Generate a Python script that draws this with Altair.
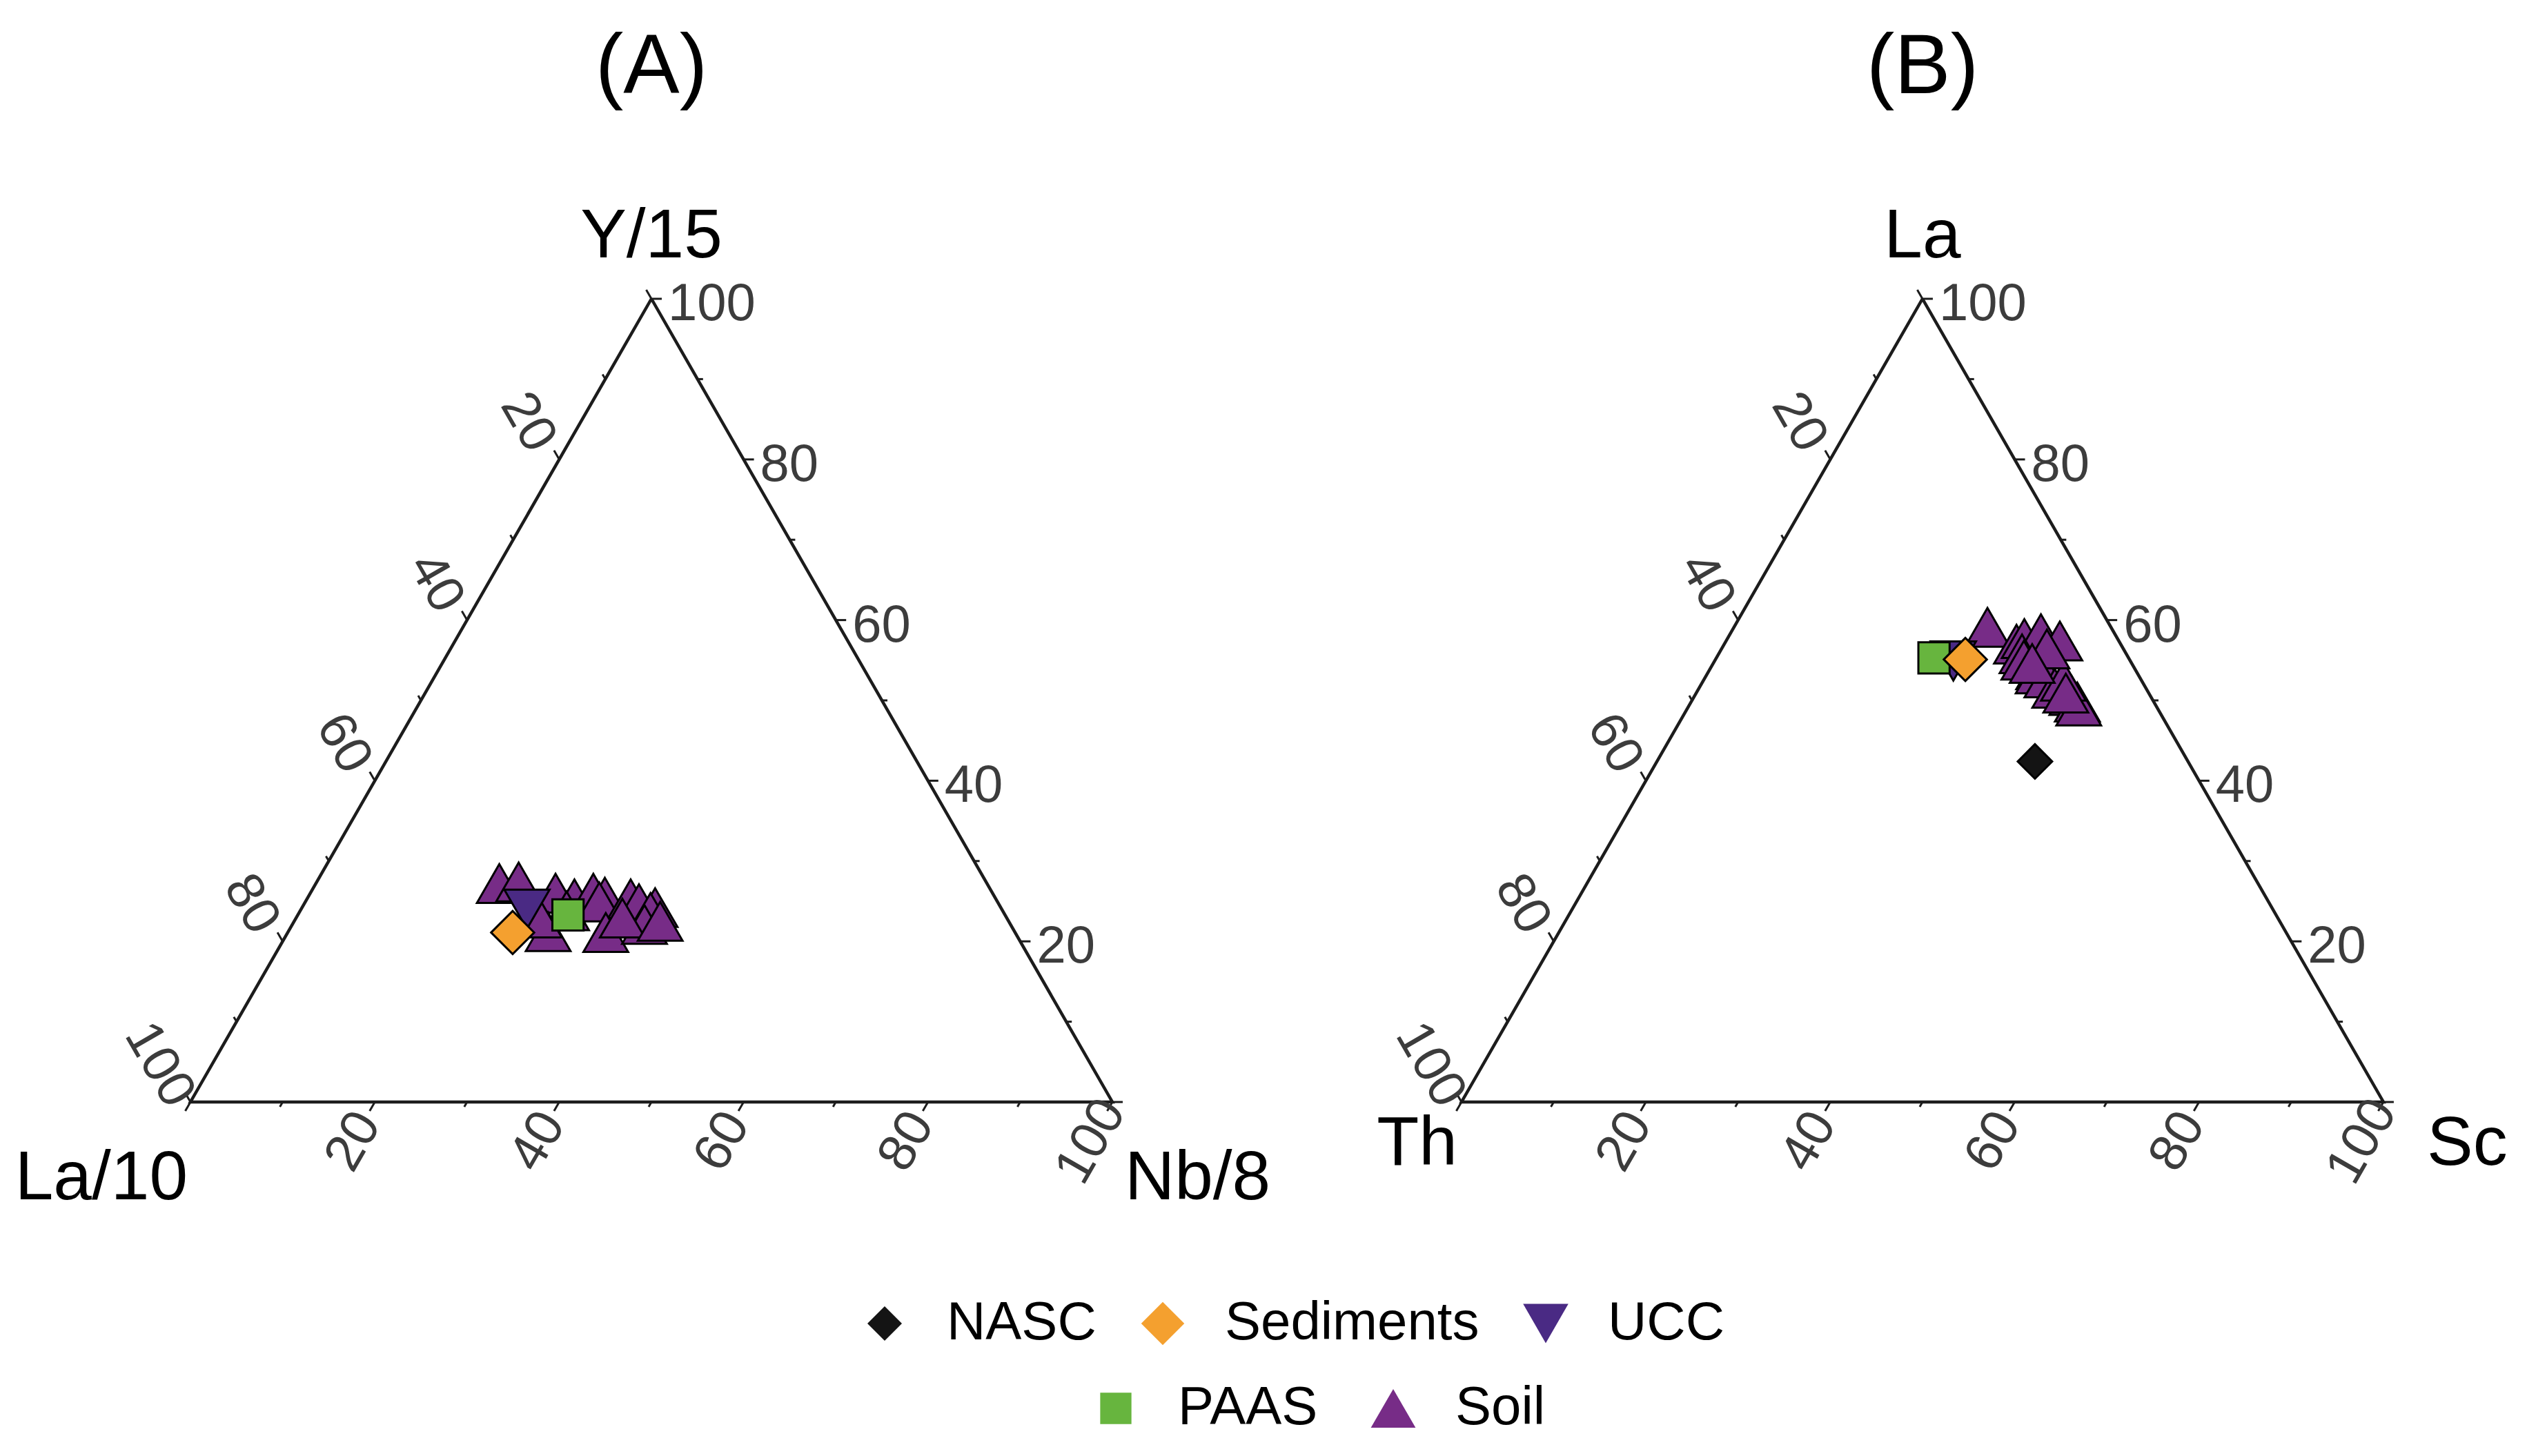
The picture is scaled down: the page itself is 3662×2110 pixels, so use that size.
import altair as alt
import pandas as pd

# ---------------- data ----------------
groups = ["NASC", "Sediments", "UCC", "PAAS", "Soil"]
group_colors = ["#141414", "#F4A02F", "#4A2A84", "#67B53E", "#772C87"]
group_shapes = ["diamond", "diamond", "triangle-down", "square", "triangle-up"]
group_sizes = [2500, 3900, 4300, 2050, 4200]
draw_order = ["NASC", "Soil", "UCC", "PAAS", "Sediments"]
legend_row1 = ["NASC", "Sediments", "UCC"]
legend_row2 = ["PAAS", "Soil"]

panel_titles = ["(A)", "(B)"]
top_names = ["Y/15", "La"]
left_names = ["La/10", "Th"]
right_names = ["Nb/8", "Sc"]

tick_values = [0, 10, 20, 30, 40, 50, 60, 70, 80, 90, 100]
label_values = [20, 40, 60, 80, 100]

# Panel A: components (Y/15, La/10, Nb/8) in %
A_soil_top = [27.2, 27.4, 26.0, 25.3, 26.0, 25.5, 24.9, 25.3, 24.7, 24.2, 23.6, 21.2, 21.1, 22.1, 23.8, 22.9, 22.5, 22.9]
A_soil_left = [52.9, 50.7, 47.4, 45.7, 43.3, 42.3, 43.2, 39.6, 39.0, 37.5, 38.3, 50.6, 44.4, 39.7, 47.3, 41.7, 37.8, 50.7]
A_soil_right = [19.9, 21.9, 26.6, 29.0, 30.7, 32.2, 31.9, 35.1, 36.3, 38.3, 38.1, 28.2, 34.5, 38.2, 28.9, 35.4, 39.7, 26.4]
A_ref_groups = ["NASC", "UCC", "PAAS", "Sediments"]
A_ref_top = [23.4, 24.0, 23.3, 21.1]
A_ref_left = [41.1, 51.5, 47.4, 54.5]
A_ref_right = [35.5, 24.5, 29.3, 24.4]

# Panel B: components (La, Th, Sc) in %
B_soil_top = [59.1, 57.0, 57.7, 58.3, 57.4, 53.8, 55.8, 55.0, 50.6, 49.8, 49.3, 53.3, 52.8, 51.5, 52.4, 56.4, 50.9, 54.6]
B_soil_left = [13.4, 11.3, 10.1, 8.0, 6.4, 10.5, 11.3, 11.5, 8.5, 8.3, 8.4, 10.8, 10.1, 9.9, 8.5, 8.3, 9.0, 10.8]
B_soil_right = [27.5, 31.7, 32.2, 33.7, 36.2, 35.7, 32.9, 33.5, 40.9, 41.9, 42.3, 35.9, 37.1, 38.6, 39.1, 35.3, 40.1, 34.6]
B_ref_groups = ["NASC", "UCC", "PAAS", "Sediments"]
B_ref_top = [42.4, 54.9, 55.3, 55.1]
B_ref_left = [16.6, 19.2, 21.1, 17.8]
B_ref_right = [41.0, 25.9, 23.6, 27.1]

# ---------------- layout ----------------
UX = 1336.0      # px per unit of triangle side
UY = 1164.0      # px per unit of triangle height
PANEL_OFF = [0.0, 1.3787]
W = 3180
H = 1164
FONT = "Liberation Sans"
# vertex label offsets (px): (dx, baseline dy below the vertex)
LEFT_LAB_OFF = [(-4, 141), (-6, 91)]
RIGHT_LAB_OFF = [(18, 141), (63, 91)]


def to_xy(t, l, r, off):
    s = t + l + r
    return off + (r + t / 2.0) / s, t / s


# points
rows = []
panels = [
    (A_soil_top, A_soil_left, A_soil_right, A_ref_groups, A_ref_top, A_ref_left, A_ref_right),
    (B_soil_top, B_soil_left, B_soil_right, B_ref_groups, B_ref_top, B_ref_left, B_ref_right),
]
for p, (st, sl, sr, rg, rt, rl, rr) in enumerate(panels):
    off = PANEL_OFF[p]
    for t, l, r in zip(st, sl, sr):
        x, y = to_xy(t, l, r, off)
        rows.append({"panel": p, "group": "Soil", "x": x, "y": y})
    for g, t, l, r in zip(rg, rt, rl, rr):
        x, y = to_xy(t, l, r, off)
        rows.append({"panel": p, "group": g, "x": x, "y": y})
pts = pd.DataFrame(rows)
pts["ord"] = pts["group"].map(lambda g: draw_order.index(g))
pts = pts.sort_values(["ord"], kind="stable").reset_index(drop=True)

# frame
frame_rows = []
for p in range(2):
    off = PANEL_OFF[p]
    for k, (t, l, r) in enumerate([(100, 0, 0), (0, 100, 0), (0, 0, 100), (100, 0, 0)]):
        x, y = to_xy(t, l, r, off)
        frame_rows.append({"panel": p, "k": k, "x": x, "y": y})
frame_df = pd.DataFrame(frame_rows)

# ticks
tick_rows = []
for p in range(2):
    off = PANEL_OFF[p]
    for v in tick_values:
        L = 15 if v % 20 == 0 else 8
        x0, y0 = to_xy(0, 100 - v, v, off)          # bottom axis
        tick_rows.append({"x": x0, "y": y0, "x2": x0 - 0.5 * L / UX, "y2": y0 - 0.866 * L / UY})
        x0, y0 = to_xy(v, 0, 100 - v, off)          # right axis
        tick_rows.append({"x": x0, "y": y0, "x2": x0 + L / UX, "y2": y0})
        x0, y0 = to_xy(100 - v, v, 0, off)          # left axis
        tick_rows.append({"x": x0, "y": y0, "x2": x0 - 0.5 * L / UX, "y2": y0 + 0.866 * L / UY})
ticks_df = pd.DataFrame(tick_rows)

# tick labels
lb, ll, lr = [], [], []
for p in range(2):
    off = PANEL_OFF[p]
    for v in label_values:
        x0, y0 = to_xy(0, 100 - v, v, off)
        lb.append({"x": x0 - 31 / UX, "y": y0 - 57 / UY, "t": str(v)})
        x0, y0 = to_xy(100 - v, v, 0, off)
        ll.append({"x": x0 - 45 / UX, "y": y0 + 54 / UY, "t": str(v)})
        x0, y0 = to_xy(v, 0, 100 - v, off)
        lr.append({"x": x0 + 24 / UX, "y": y0 - 8 / UY, "t": str(v)})
lb, ll, lr = pd.DataFrame(lb), pd.DataFrame(ll), pd.DataFrame(lr)

# vertex labels & titles
vt, vl, vr, tt = [], [], [], []
for p in range(2):
    off = PANEL_OFF[p]
    x, y = to_xy(100, 0, 0, off)
    vt.append({"x": x, "y": y + 60 / UY, "t": top_names[p]})
    tt.append({"x": x, "y": y + 298 / UY, "t": panel_titles[p]})
    x, y = to_xy(0, 100, 0, off)
    vl.append({"x": x + LEFT_LAB_OFF[p][0] / UX, "y": y - LEFT_LAB_OFF[p][1] / UY, "t": left_names[p]})
    x, y = to_xy(0, 0, 100, off)
    vr.append({"x": x + RIGHT_LAB_OFF[p][0] / UX, "y": y - RIGHT_LAB_OFF[p][1] / UY, "t": right_names[p]})
vt, vl, vr, tt = pd.DataFrame(vt), pd.DataFrame(vl), pd.DataFrame(vr), pd.DataFrame(tt)

# ---------------- chart ----------------
xs = alt.Scale(domain=[0, W / UX], nice=False, zero=False)
ys = alt.Scale(domain=[0, 1], nice=False, zero=False)
X = alt.X("x:Q", scale=xs, axis=None)
Y = alt.Y("y:Q", scale=ys, axis=None)

frame = alt.Chart(frame_df).mark_line(color="#1c1c1c", strokeWidth=4.5, strokeJoin="miter").encode(
    x=X, y=Y, detail="panel:N", order="k:Q")
ticks = alt.Chart(ticks_df).mark_rule(color="#1c1c1c", strokeWidth=3).encode(
    x=X, y=Y, x2="x2:Q", y2="y2:Q")

lab_kw = dict(font=FONT, fontSize=76, color="#3c3c3c")
lab_b = alt.Chart(lb).mark_text(angle=300, align="center", baseline="middle", **lab_kw).encode(x=X, y=Y, text="t:N")
lab_l = alt.Chart(ll).mark_text(angle=60, align="center", baseline="middle", **lab_kw).encode(x=X, y=Y, text="t:N")
lab_r = alt.Chart(lr).mark_text(align="left", baseline="middle", **lab_kw).encode(x=X, y=Y, text="t:N")

vk = dict(font=FONT, fontSize=100, color="#000000", baseline="alphabetic")
v_top = alt.Chart(vt).mark_text(align="center", **vk).encode(x=X, y=Y, text="t:N")
v_left = alt.Chart(vl).mark_text(align="right", **vk).encode(x=X, y=Y, text="t:N")
v_right = alt.Chart(vr).mark_text(align="left", **vk).encode(x=X, y=Y, text="t:N")
titles = alt.Chart(tt).mark_text(align="center", font=FONT, fontSize=122, color="#000000",
                                 baseline="alphabetic").encode(x=X, y=Y, text="t:N")

pt_mark = dict(filled=True, stroke="#000000", strokeWidth=3, opacity=1)


def enc_scales(domain, legend):
    idx = [groups.index(g) for g in domain]
    return dict(
        color=alt.Color("group:N", scale=alt.Scale(domain=domain, range=[group_colors[i] for i in idx]), legend=legend),
        shape=alt.Shape("group:N", scale=alt.Scale(domain=domain, range=[group_shapes[i] for i in idx]), legend=legend),
        size=alt.Size("group:N", scale=alt.Scale(type="ordinal", domain=domain, range=[group_sizes[i] for i in idx]),
                      legend=legend),
    )


points = alt.Chart(pts).mark_point(**pt_mark).encode(x=X, y=Y, **enc_scales(groups, None))


def legend_for(lx, ly, cpad):
    return alt.Legend(orient="none", legendX=lx, legendY=ly, direction="horizontal", title=None,
                      labelFont=FONT, labelFontSize=78, labelColor="#000000", labelOffset=51,
                      columnPadding=cpad, symbolStrokeColor="#000000", symbolStrokeWidth=3,
                      symbolOpacity=1, labelLimit=0)


leg1 = alt.Chart(pts).transform_filter("false").mark_point(**pt_mark).encode(
    x=X, y=Y, **enc_scales(legend_row1, legend_for(967, 1446, 57)))
leg2 = alt.Chart(pts).transform_filter("false").mark_point(**pt_mark).encode(
    x=X, y=Y, **enc_scales(legend_row2, legend_for(1302, 1569, 70)))

chart = alt.layer(frame, ticks, lab_b, lab_l, lab_r, v_top, v_left, v_right, titles, points, leg1, leg2).resolve_scale(
    color="independent", shape="independent", size="independent"
).properties(
    width=W, height=H,
    padding={"left": 268, "top": 425, "right": 190, "bottom": 495},
    autosize="none",
    background="#ffffff",
).configure_view(strokeWidth=0)

chart.save("out.html", embed_options={"renderer": "svg", "actions": False})
